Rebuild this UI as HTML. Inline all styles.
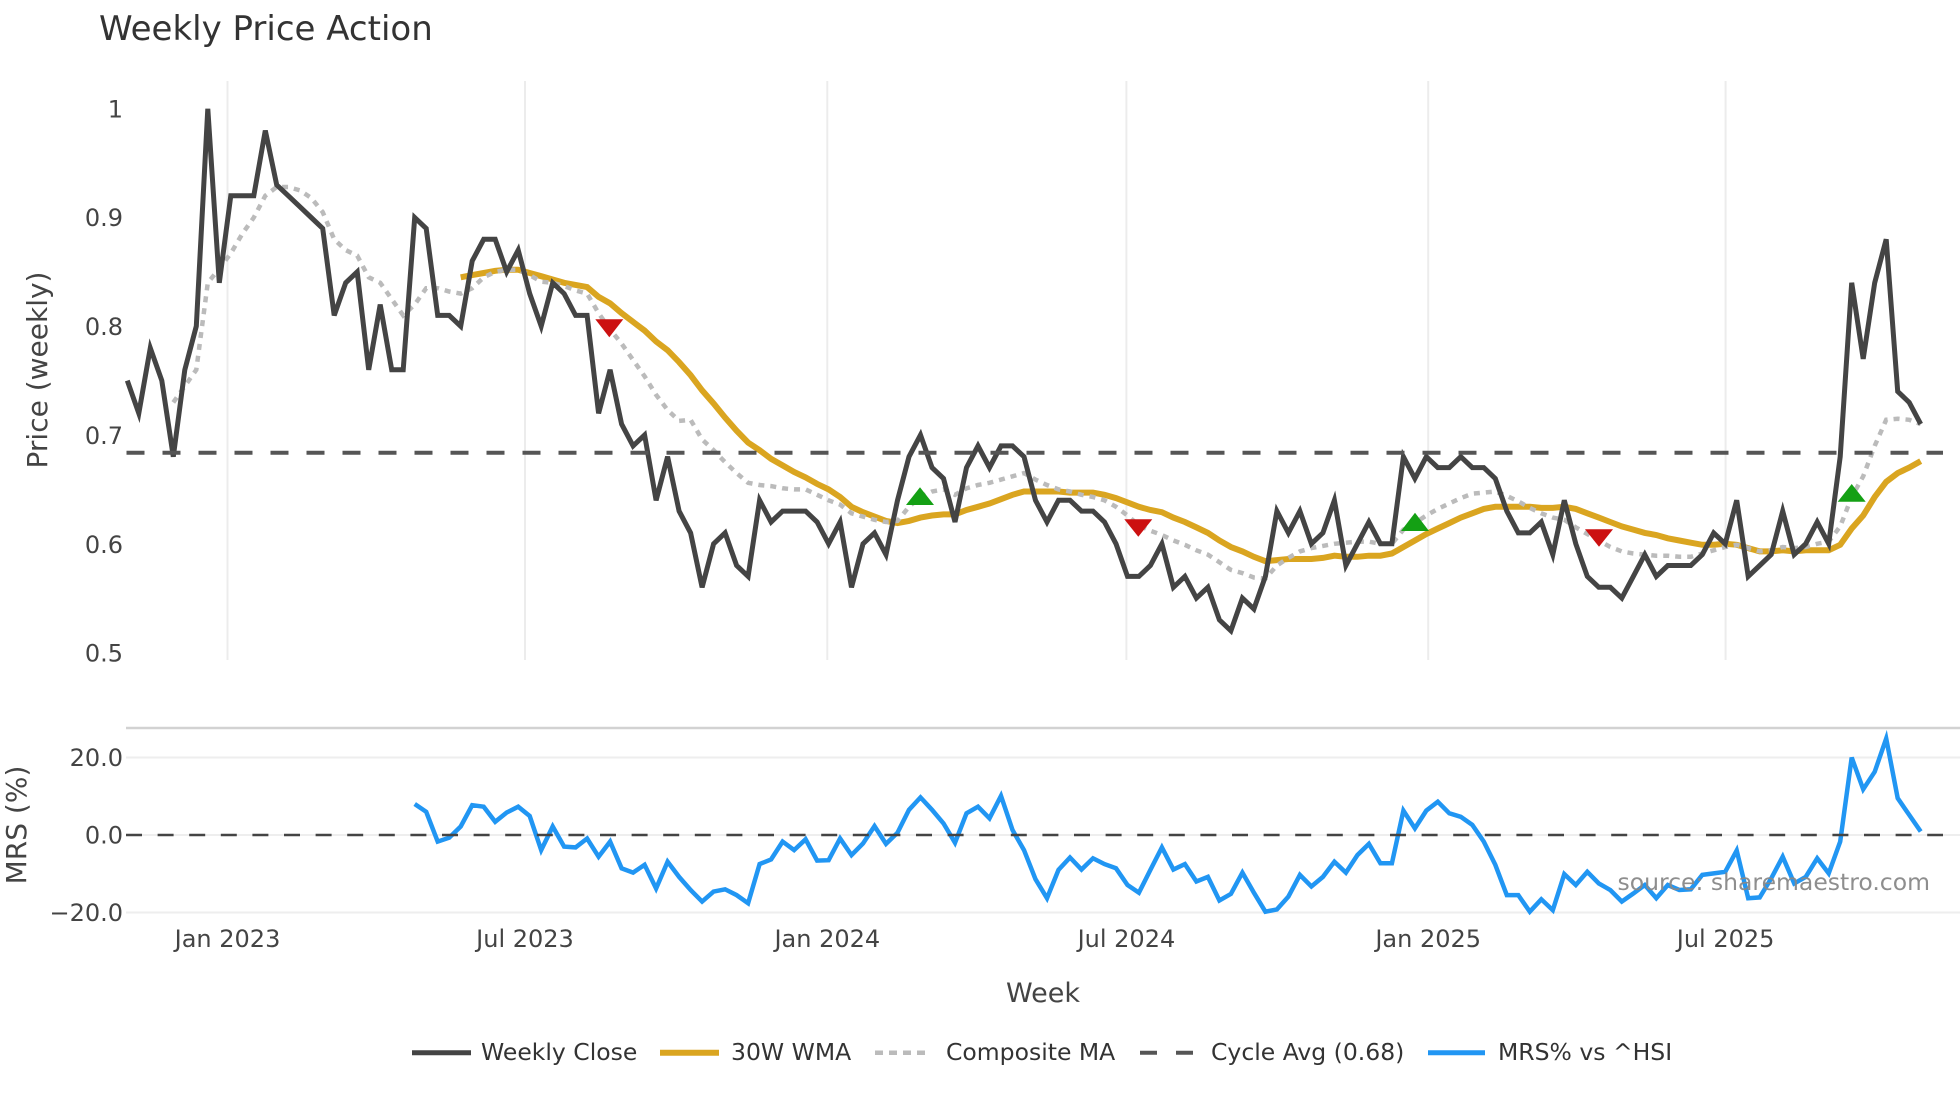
<!DOCTYPE html>
<html>
<head>
<meta charset="utf-8">
<style>
  html,body{margin:0;padding:0;background:#fff;}
  svg{display:block;}
  text{font-family:"DejaVu Sans","Liberation Sans",sans-serif;}
</style>
</head>
<body>
<svg id="chart" width="1960" height="1102" viewBox="0 0 1960 1102" xmlns="http://www.w3.org/2000/svg">
  <rect x="0" y="0" width="1960" height="1102" fill="#fff"/>
  <!-- title -->
  <text x="99" y="40" font-size="34" fill="#333">Weekly Price Action</text>

  <!-- vertical gridlines (price panel) -->
  <g stroke="#ececec" stroke-width="2">
    <line x1="227.5" y1="81" x2="227.5" y2="660"/>
    <line x1="525" y1="81" x2="525" y2="660"/>
    <line x1="827.3" y1="81" x2="827.3" y2="660"/>
    <line x1="1126.4" y1="81" x2="1126.4" y2="660"/>
    <line x1="1428.2" y1="81" x2="1428.2" y2="660"/>
    <line x1="1725.6" y1="81" x2="1725.6" y2="660"/>
  </g>

  <!-- MRS panel gridlines -->
  <g stroke="#eeeeee" stroke-width="2">
    <line x1="126" y1="757.5" x2="1960" y2="757.5"/>
    <line x1="126" y1="835" x2="1960" y2="835"/>
    <line x1="126" y1="912.5" x2="1960" y2="912.5"/>
  </g>
  <line x1="126" y1="728" x2="1960" y2="728" stroke="#d2d2d2" stroke-width="2.5"/>

  <!-- y tick labels price -->
  <g font-size="24" fill="#444" text-anchor="end">
    <text x="123" y="117.5">1</text>
    <text x="123" y="226">0.9</text>
    <text x="123" y="335">0.8</text>
    <text x="123" y="444">0.7</text>
    <text x="123" y="553">0.6</text>
    <text x="123" y="661.5">0.5</text>
  </g>
  <!-- y tick labels MRS -->
  <g font-size="24" fill="#444" text-anchor="end">
    <text x="123" y="766">20.0</text>
    <text x="123" y="843.5">0.0</text>
    <text x="123" y="921">−20.0</text>
  </g>

  <!-- x tick labels -->
  <g font-size="24" fill="#444" text-anchor="middle">
    <text x="227.5" y="947">Jan 2023</text>
    <text x="525" y="947">Jul 2023</text>
    <text x="827.3" y="947">Jan 2024</text>
    <text x="1126.4" y="947">Jul 2024</text>
    <text x="1428.2" y="947">Jan 2025</text>
    <text x="1725.6" y="947">Jul 2025</text>
  </g>

  <!-- axis titles -->
  <text x="1043" y="1002" font-size="27" fill="#444" text-anchor="middle">Week</text>
  <text transform="translate(47,370) rotate(-90)" font-size="28" fill="#444" text-anchor="middle">Price (weekly)</text>
  <text transform="translate(26,825) rotate(-90)" font-size="28" fill="#444" text-anchor="middle">MRS (%)</text>

  <!-- data layers -->
  <g id="priceLayer"></g>

  <!-- cycle avg dashed line -->
  <line x1="126.5" y1="452.7" x2="1943" y2="452.7" stroke="#555" stroke-width="4" stroke-dasharray="18,18"/>

  <!-- signal markers -->
  <g>
    <polygon points="595.3,319.3 623.3,319.3 609.3,337.3" fill="#cc1111"/>
    <polygon points="906,505 934,505 920,487.3" fill="#14a014"/>
    <polygon points="1124.3,519.3 1152.3,519.3 1138.3,536.7" fill="#cc1111"/>
    <polygon points="1401,531 1429,531 1415,512.7" fill="#14a014"/>
    <polygon points="1585,529.3 1613,529.3 1599,546.7" fill="#cc1111"/>
    <polygon points="1837.7,501.7 1865.7,501.7 1851.7,484" fill="#14a014"/>
  </g>

  <!-- MRS -->
  <g id="mrsLayer"></g>
  <line x1="126" y1="835" x2="1943" y2="835" stroke="#444" stroke-width="2.5" stroke-dasharray="16,15.6"/>

  <!-- source annotation -->
  <text x="1930" y="890" font-size="23.5" fill="#888" fill-opacity="0.95" text-anchor="end">source: sharemaestro.com</text>

  <!-- legend -->
  <g>
    <line x1="412" y1="1052.7" x2="471" y2="1052.7" stroke="#444" stroke-width="5"/>
    <text x="481" y="1060" font-size="23.5" fill="#333">Weekly Close</text>
    <line x1="660" y1="1052.7" x2="719" y2="1052.7" stroke="#DAA520" stroke-width="6"/>
    <text x="731" y="1060" font-size="23.5" fill="#333">30W WMA</text>
    <line x1="875" y1="1052.7" x2="931" y2="1052.7" stroke="#bbb" stroke-width="4.5" stroke-dasharray="8,6"/>
    <text x="946" y="1060" font-size="23.5" fill="#333">Composite MA</text>
    <line x1="1140" y1="1052.7" x2="1194" y2="1052.7" stroke="#555" stroke-width="4" stroke-dasharray="17,19"/>
    <text x="1211" y="1060" font-size="23.5" fill="#333">Cycle Avg (0.68)</text>
    <line x1="1428" y1="1052.7" x2="1485" y2="1052.7" stroke="#2196F3" stroke-width="5"/>
    <text x="1498" y="1060" font-size="23.5" fill="#333">MRS% vs ^HSI</text>
  </g>
</svg>
<script>
(function(){
  var NS="http://www.w3.org/2000/svg";
  function X(n){return 127.3+11.496*n;}
  function PY(v){return 652.5-(v-0.5)*1087.5;}
  function MY(m){return 835-m*3.875;}
  var close=[0.75,0.72,0.78,0.75,0.68,0.76,0.80,1.00,0.84,0.92,
  0.92,0.92,0.98,0.93,0.92,0.91,0.90,0.89,0.81,0.84,
  0.85,0.76,0.82,0.76,0.76,0.90,0.89,0.81,0.81,0.80,
  0.86,0.88,0.88,0.85,0.87,0.83,0.80,0.84,0.83,0.81,
  0.81,0.72,0.76,0.71,0.69,0.70,0.64,0.68,0.63,0.61,
  0.56,0.60,0.61,0.58,0.57,0.64,0.62,0.63,0.63,0.63,
  0.62,0.60,0.62,0.56,0.60,0.61,0.59,0.64,0.68,0.70,
  0.67,0.66,0.62,0.67,0.69,0.67,0.69,0.69,0.68,0.64,
  0.62,0.64,0.64,0.63,0.63,0.62,0.60,0.57,0.57,0.58,
  0.60,0.56,0.57,0.55,0.56,0.53,0.52,0.55,0.54,0.57,
  0.63,0.61,0.63,0.60,0.61,0.64,0.58,0.60,0.62,0.60,
  0.60,0.68,0.66,0.68,0.67,0.67,0.68,0.67,0.67,0.66,
  0.63,0.61,0.61,0.62,0.59,0.64,0.60,0.57,0.56,0.56,
  0.55,0.57,0.59,0.57,0.58,0.58,0.58,0.59,0.61,0.60,
  0.64,0.57,0.58,0.59,0.63,0.59,0.60,0.62,0.60,0.68,
  0.84,0.77,0.84,0.88,0.74,0.73,0.71];
  var comp=[0.73,0.745,0.76,0.84,0.853,0.867,
  0.885,0.90,0.92,0.928,0.928,0.925,0.918,0.905,0.88,0.87,
  0.865,0.845,0.84,0.825,0.81,0.82,0.835,0.835,0.832,0.83,
  0.835,0.845,0.85,0.852,0.852,0.847,0.841,0.84,0.837,0.833,
  0.83,0.812,0.797,0.784,0.769,0.754,0.737,0.723,0.713,0.714,
  0.696,0.686,0.675,0.665,0.656,0.654,0.653,0.651,0.65,0.65,
  0.645,0.64,0.636,0.628,0.625,0.622,0.62,0.621,0.634,0.643,
  0.648,0.65,0.645,0.651,0.654,0.656,0.659,0.662,0.665,0.659,
  0.654,0.65,0.648,0.645,0.643,0.64,0.634,0.626,0.617,0.612,
  0.608,0.603,0.599,0.594,0.59,0.583,0.576,0.573,0.569,0.568,
  0.58,0.587,0.593,0.596,0.598,0.6,0.601,0.602,0.602,0.6,
  0.6,0.613,0.619,0.626,0.632,0.637,0.642,0.646,0.647,0.648,
  0.644,0.639,0.633,0.628,0.624,0.622,0.615,0.609,0.603,0.597,
  0.593,0.591,0.59,0.589,0.589,0.588,0.588,0.591,0.594,0.597,
  0.599,0.596,0.593,0.594,0.597,0.596,0.597,0.6,0.602,0.616,
  0.643,0.662,0.69,0.714,0.715,0.714,0.71];
  var wma=[0.845,
  0.847,0.849,0.851,0.852,0.852,0.849,0.846,0.843,0.84,0.838,
  0.836,0.827,0.821,0.812,0.804,0.796,0.786,0.778,0.767,0.755,
  0.741,0.729,0.716,0.704,0.693,0.686,0.678,0.672,0.666,0.661,
  0.655,0.65,0.643,0.634,0.629,0.625,0.621,0.619,0.621,0.624,
  0.626,0.627,0.627,0.631,0.634,0.637,0.641,0.645,0.648,0.648,
  0.648,0.648,0.647,0.647,0.647,0.645,0.642,0.638,0.634,0.631,
  0.629,0.624,0.62,0.615,0.61,0.603,0.597,0.593,0.588,0.584,
  0.585,0.586,0.586,0.586,0.587,0.589,0.588,0.588,0.589,0.589,
  0.591,0.597,0.603,0.609,0.614,0.619,0.624,0.628,0.632,0.634,
  0.634,0.634,0.634,0.633,0.633,0.634,0.632,0.628,0.624,0.62,
  0.616,0.613,0.61,0.608,0.605,0.603,0.601,0.599,0.599,0.6,
  0.599,0.596,0.593,0.593,0.594,0.593,0.594,0.594,0.594,0.599,
  0.614,0.626,0.643,0.657,0.665,0.67,0.676];
  var mrs=[8.0,6.0,-1.7,-0.7,2.2,
  7.7,7.3,3.4,5.8,7.3,4.9,-3.9,2.2,-3.0,-3.2,
  -0.9,-5.6,-1.7,-8.6,-9.7,-7.7,-13.8,-6.9,-10.8,-14.2,
  -17.2,-14.6,-14.0,-15.5,-17.6,-7.5,-6.3,-1.7,-3.9,-1.1,
  -6.6,-6.5,-0.9,-5.2,-2.2,2.3,-2.3,0.6,6.5,9.7,
  6.5,3.0,-2.0,5.6,7.3,4.3,10.1,1.3,-3.9,-11.4,
  -16.3,-9.0,-5.8,-8.9,-6.0,-7.5,-8.6,-12.9,-14.9,-9.0,
  -3.2,-8.9,-7.5,-12.0,-10.8,-16.9,-15.2,-9.7,-14.9,-19.8,
  -19.2,-15.9,-10.3,-13.3,-10.8,-6.9,-9.7,-5.2,-2.3,-7.3,
  -7.3,6.3,1.7,6.3,8.6,5.6,4.7,2.6,-1.7,-7.7,
  -15.5,-15.5,-19.8,-16.6,-19.4,-10.1,-12.9,-9.5,-12.5,-14.2,
  -17.2,-15.1,-12.9,-16.3,-12.9,-14.2,-14.0,-10.3,-9.9,-9.5,
  -4.0,-16.3,-16.1,-11.2,-5.6,-12.5,-10.8,-6.0,-9.9,-1.7,
  20.0,11.8,16.3,24.9,9.5,5.2,0.9];
  function pts(arr,start,fy){
    var s=[];
    for(var i=0;i<arr.length;i++){s.push(X(start+i).toFixed(1)+","+fy(arr[i]).toFixed(1));}
    return s.join(" ");
  }
  function poly(parent,p,attrs){
    var el=document.createElementNS(NS,"polyline");
    el.setAttribute("points",p);
    el.setAttribute("fill","none");
    for(var k in attrs){el.setAttribute(k,attrs[k]);}
    parent.appendChild(el);
  }
  var pl=document.getElementById("priceLayer");
  poly(pl,pts(wma,29,PY),{"stroke":"#DAA520","stroke-width":"6"});
  poly(pl,pts(comp,4,PY),{"stroke":"#bbbbbb","stroke-width":"4.5","stroke-dasharray":"6,6"});
  poly(pl,pts(close,0,PY),{"stroke":"#444444","stroke-width":"5"});
  var ml=document.getElementById("mrsLayer");
  poly(ml,pts(mrs,25,MY),{"stroke":"#2196F3","stroke-width":"4.5"});
})();
</script>
</body>
</html>
